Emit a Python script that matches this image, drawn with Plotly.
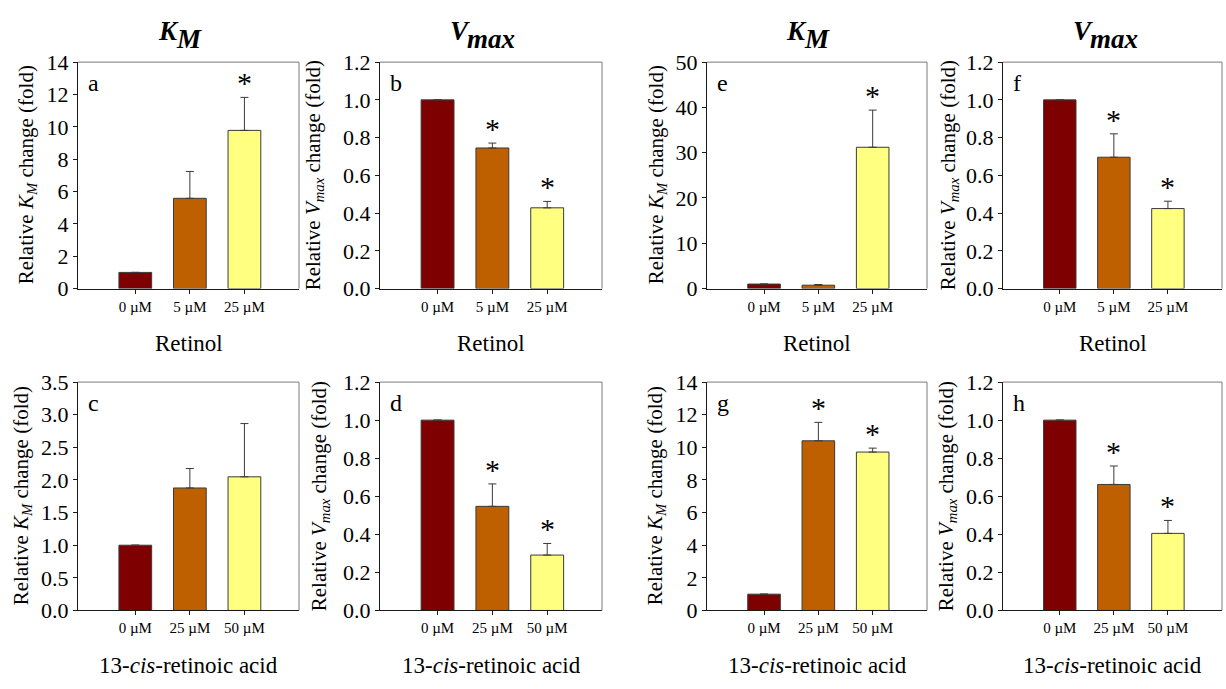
import plotly.graph_objects as go

# ---------------- data ----------------
conc_retinol = ["0 µM", "5 µM", "25 µM"]
conc_cis = ["0 µM", "25 µM", "50 µM"]

a_vals = [1.0, 5.58, 9.78]
a_err = [0.0, 1.66, 2.04]
a_sig = [False, False, True]

b_vals = [1.0, 0.745, 0.428]
b_err = [0.0, 0.026, 0.034]
b_sig = [False, True, True]

c_vals = [1.0, 1.877, 2.048]
c_err = [0.0, 0.298, 0.816]
c_sig = [False, False, False]

d_vals = [1.0, 0.547, 0.291]
d_err = [0.0, 0.118, 0.061]
d_sig = [False, True, True]

e_vals = [1.0, 0.75, 31.2]
e_err = [0.0, 0.15, 8.2]
e_sig = [False, False, True]

f_vals = [1.0, 0.696, 0.424]
f_err = [0.0, 0.124, 0.039]
f_sig = [False, True, True]

g_vals = [1.0, 10.4, 9.71]
g_err = [0.0, 1.13, 0.24]
g_sig = [False, True, True]

h_vals = [1.0, 0.662, 0.405]
h_err = [0.0, 0.097, 0.068]
h_sig = [False, True, True]

bar_colors = ["#7F0000", "#BF6000", "#FFFF80"]

KM_LABEL = "Relative <i>K<sub>M</sub></i> change (fold)"
VM_LABEL = "Relative <i>V<sub>max</sub></i> change (fold)"
RET = "Retinol"
CIS = "13-<i>cis</i>-retinoic acid"

# panel: letter, cats, vals, err, sig, ytitle, xtitle, ymax, dtick, fmt, y-title offset (px)
panels = [
    ("a", conc_retinol, a_vals, a_err, a_sig, KM_LABEL, RET, 14, 2, "d", 51),
    ("b", conc_retinol, b_vals, b_err, b_sig, VM_LABEL, RET, 1.2, 0.2, ".1f", 66),
    ("e", conc_retinol, e_vals, e_err, e_sig, KM_LABEL, RET, 50, 10, "d", 50),
    ("f", conc_retinol, f_vals, f_err, f_sig, VM_LABEL, RET, 1.2, 0.2, ".1f", 54),
    ("c", conc_cis, c_vals, c_err, c_sig, KM_LABEL, CIS, 3.5, 0.5, ".1f", 56),
    ("d", conc_cis, d_vals, d_err, d_sig, VM_LABEL, CIS, 1.2, 0.2, ".1f", 60),
    ("g", conc_cis, g_vals, g_err, g_sig, KM_LABEL, CIS, 14, 2, "d", 51),
    ("h", conc_cis, h_vals, h_err, h_sig, VM_LABEL, CIS, 1.2, 0.2, ".1f", 56),
]

W, H = 1226, 689
col_px = [(78, 299), (380, 602), (707, 927), (1003, 1222)]
row_px = [(52, 287), (384, 621)]

FONT = "Liberation Serif"

fig = go.Figure()
layout = dict(
    width=W, height=H,
    margin=dict(l=0, r=0, t=0, b=0),
    paper_bgcolor="white", plot_bgcolor="white",
    showlegend=False,
    font=dict(family=FONT, color="black", size=16),
)
annotations = []
shapes = []


def ann(**kw):
    kw.setdefault("showarrow", False)
    annotations.append(kw)


for i, (letter, cats, vals, err, sig, ytitle, xtitle, ymax, dtick, fmt, yoff) in enumerate(panels):
    r, c = divmod(i, 4)
    n = i + 1
    xa = "x" if n == 1 else f"x{n}"
    ya = "y" if n == 1 else f"y{n}"
    xk = "xaxis" if n == 1 else f"xaxis{n}"
    yk = "yaxis" if n == 1 else f"yaxis{n}"
    x0, x1 = col_px[c]
    y0, y1 = row_px[r]

    fig.add_trace(go.Bar(
        x=cats, y=vals, xaxis=xa, yaxis=ya,
        width=0.6,
        marker=dict(color=bar_colors, line=dict(color="#3a3a3a", width=1)),
        error_y=dict(type="data", symmetric=False, array=err,
                     arrayminus=[0] * len(err), color="#3a3a3a",
                     thickness=1, width=4),
        hoverinfo="x+y",
    ))

    layout[xk] = dict(
        domain=[x0 / W, x1 / W], anchor=ya,
        type="category", categoryorder="array", categoryarray=cats,
        range=[-1.05, 3.0],
        showline=True, linecolor="#1a1a1a", linewidth=1,
        ticks="outside", ticklen=4, tickcolor="#1a1a1a",
        tickfont=dict(family=FONT, size=15, color="black"),
        showgrid=False, zeroline=False, fixedrange=True,
    )
    layout[yk] = dict(
        domain=[1 - y1 / H, 1 - y0 / H], anchor=xa,
        range=[0, ymax], dtick=dtick, tick0=0, tickformat=fmt,
        showline=True, linecolor="#1a1a1a", linewidth=1,
        ticks="outside", ticklen=4, tickcolor="#1a1a1a",
        tickfont=dict(family=FONT, size=22, color="black"),
        showgrid=False, zeroline=False, fixedrange=True,
    )

    # top and right frame lines
    shapes.append(dict(type="line", xref=f"{xa} domain", yref=f"{ya} domain",
                       x0=0, x1=1, y0=1, y1=1, line=dict(color="#7a7a7a", width=1)))
    shapes.append(dict(type="line", xref=f"{xa} domain", yref=f"{ya} domain",
                       x0=1, x1=1, y0=0, y1=1, line=dict(color="#7a7a7a", width=1)))

    # axis titles (as text annotations)
    ann(text=ytitle, xref="paper", yref=f"{ya} domain", x=(x0 - yoff) / W, y=0.5,
        xanchor="center", yanchor="middle", textangle=-90,
        font=dict(family=FONT, size=21, color="black"))
    ann(text=xtitle, xref=f"{xa} domain", yref=f"{ya} domain", x=0.5, y=0,
        yshift=-55, xanchor="center", yanchor="middle",
        font=dict(family=FONT, size=23, color="black"))

    # panel letter
    ann(text=letter, xref=f"{xa} domain", yref=f"{ya} domain",
        x=0.035, y=0.975, xanchor="left", yanchor="top",
        font=dict(family=FONT, size=24, color="black"))

    # significance asterisks
    for cat, v, e, s in zip(cats, vals, err, sig):
        if s:
            ann(text="*", xref=xa, yref=ya, x=cat, y=v + e,
                xanchor="center", yanchor="bottom", yshift=-4,
                font=dict(family=FONT, size=30, color="black"))

# column headers: main symbol + same-size lowered subscript
headers = [("K", "M", 181), ("V", "max", 483), ("K", "M", 809), ("V", "max", 1106)]
HFONT = dict(family=FONT, size=27, color="black")
for main, sub, xc in headers:
    main_w = 18
    sub_w = 24 if sub == "M" else 46
    split = xc - (main_w + sub_w) / 2 + main_w
    ann(text=f"<b><i>{main}</i></b>", xref="paper", yref="paper", x=(split + 3) / W, y=1 - 20 / H,
        xanchor="right", yanchor="middle", font=HFONT)
    ann(text=f"<b><i>{sub}</i></b>", xref="paper", yref="paper", x=(split - 4) / W, y=1 - 28 / H,
        xanchor="left", yanchor="middle", font=HFONT)

layout["annotations"] = annotations
layout["shapes"] = shapes
fig.update_layout(**layout)

fig.write_html("out.html")
